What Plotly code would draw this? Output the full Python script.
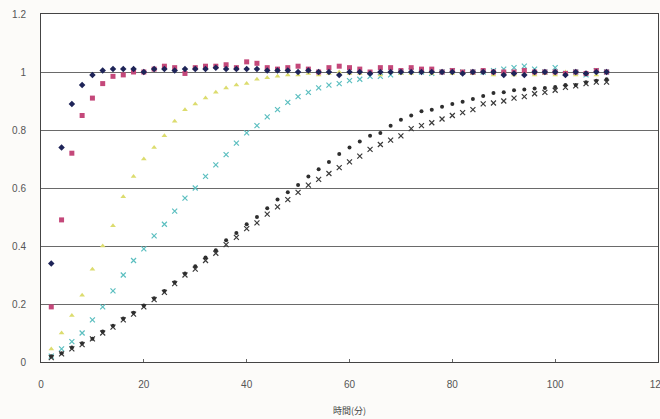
import plotly.graph_objects as go

time_min = list(range(2, 111, 2))

s1 = [0.34, 0.74, 0.89, 0.955, 0.99,
      1.005, 1.01, 1.01, 1.01, 1.0,
      1.01, 1.01, 1.005, 1.01, 1.01,
      1.01, 1.015, 1.01, 1.01, 1.01,
      1.01, 1.005, 1.005, 1.005, 1.0,
      1.005, 1.0, 1.0, 0.99, 1.0,
      1.0, 0.995, 1.0, 1.0, 1.0,
      1.0, 1.0, 1.0, 1.0, 1.0,
      0.995, 1.0, 1.0, 1.0, 0.99,
      0.995, 0.99, 1.0, 1.0, 1.0,
      0.99, 1.0, 0.995, 1.0, 1.0]

s2 = [0.19, 0.49, 0.72, 0.85, 0.91,
      0.96, 0.985, 0.99, 1.0, 1.0,
      1.01, 1.02, 1.015, 0.995, 1.015,
      1.02, 1.02, 1.025, 1.015, 1.035,
      1.03, 1.015, 1.01, 1.015, 1.02,
      1.01, 1.0, 1.015, 1.02, 1.015,
      1.01, 1.0, 1.015, 1.015, 1.005,
      1.015, 1.01, 1.01, 1.0, 1.005,
      1.0, 1.0, 1.005, 1.0, 1.0,
      1.0, 1.005, 1.0, 1.0, 1.0,
      0.995, 1.0, 0.995, 1.005, 1.0]

s3 = [0.045, 0.10, 0.16, 0.23, 0.32,
      0.40, 0.47, 0.57, 0.64, 0.70,
      0.74, 0.78, 0.83, 0.87, 0.89,
      0.91, 0.93, 0.945, 0.955, 0.96,
      0.975, 0.98, 0.985, 0.99, 0.99,
      0.995, 0.99, 0.995, 1.0, 0.995,
      0.995, 1.0, 0.99, 1.0, 0.995,
      0.995, 1.0, 0.995, 1.0, 0.995,
      1.0, 0.995, 1.0, 0.99, 0.995,
      0.99, 1.0, 0.99, 0.995, 0.99,
      1.0, 0.99, 0.995, 0.99, 1.0]

s4 = [0.02, 0.045, 0.07, 0.10, 0.145,
      0.19, 0.245, 0.30, 0.35, 0.39,
      0.435, 0.475, 0.52, 0.565, 0.60,
      0.64, 0.68, 0.715, 0.755, 0.79,
      0.815, 0.845, 0.87, 0.895, 0.915,
      0.93, 0.945, 0.955, 0.96, 0.97,
      0.975, 0.985, 0.985, 0.99, 1.0,
      1.005, 1.0, 0.995, 1.0, 1.005,
      1.0, 1.0, 1.0, 1.005, 1.01,
      1.015, 1.02, 1.01, 1.0, 1.015,
      0.995, 1.0, 0.99, 1.005, 1.0]

s5 = [0.02, 0.03, 0.05, 0.065, 0.08,
      0.105, 0.125, 0.15, 0.17, 0.195,
      0.22, 0.245, 0.275, 0.305, 0.33,
      0.36, 0.385, 0.42, 0.445, 0.475,
      0.50, 0.53, 0.56, 0.585, 0.61,
      0.64, 0.665, 0.69, 0.717, 0.74,
      0.76, 0.78, 0.79, 0.815, 0.835,
      0.85, 0.865, 0.87, 0.88, 0.89,
      0.897, 0.907, 0.917, 0.928, 0.93,
      0.937, 0.94, 0.943, 0.945, 0.948,
      0.955, 0.955, 0.965, 0.97, 0.975]

s6 = [0.015, 0.028, 0.045, 0.06, 0.08,
      0.10, 0.12, 0.145, 0.165, 0.19,
      0.215, 0.24, 0.27, 0.30, 0.32,
      0.35, 0.375, 0.405, 0.43, 0.46,
      0.48, 0.51, 0.535, 0.56, 0.585,
      0.61, 0.63, 0.65, 0.67, 0.69,
      0.71, 0.733, 0.75, 0.765, 0.78,
      0.805, 0.815, 0.825, 0.838, 0.85,
      0.86, 0.87, 0.89, 0.893, 0.90,
      0.91, 0.915, 0.925, 0.93, 0.937,
      0.947, 0.952, 0.96, 0.965, 0.965]

x_ticks = [0, 20, 40, 60, 80, 100, 120]
y_ticks = [0, 0.2, 0.4, 0.6, 0.8, 1.0, 1.2]
y_tick_labels = ["0", "0.2", "0.4", "0.6", "0.8", "1", "1.2"]

series = [
    (s4, "#5cbfc0", "x-thin", 5, 1.2),
    (s3, "#dcdc6e", "triangle-up", 5, 0),
    (s6, "#3a3a3a", "x-thin", 5, 1.2),
    (s5, "#2e2e2e", "circle", 4, 0),
    (s2, "#c4487a", "square", 5, 0),
    (s1, "#1e2458", "diamond", 5, 0),
]

fig = go.Figure()
for vals, col, sym, size, lw in series:
    marker = dict(symbol=sym, size=size, color=col)
    if lw:
        marker["line"] = dict(color=col, width=lw)
    fig.add_trace(go.Scatter(x=time_min, y=vals, mode="markers",
                             marker=marker, showlegend=False, cliponaxis=False))

fig.update_layout(
    width=660, height=419, autosize=False,
    margin=dict(l=41, r=2, t=14, b=57),
    paper_bgcolor="#fcfbf9",
    plot_bgcolor="#ffffff",
    font=dict(family="Liberation Sans, Arial, sans-serif", size=10, color="#555"),
)
fig.update_xaxes(
    range=[0, 120], tickvals=x_ticks, showgrid=False, automargin=False,
    showline=True, linecolor="#444", linewidth=1, mirror=True,
    ticks="inside", ticklen=3, tickcolor="#666",
    ticklabelstandoff=13, ticklabeloverflow="allow", zeroline=False,
    title=dict(text="時間(分)", font=dict(family="Noto Sans CJK JP", size=9, color="#444"),
               standoff=18),
)
fig.update_yaxes(
    range=[0, 1.2], tickvals=y_ticks, ticktext=y_tick_labels, automargin=False,
    showgrid=True, gridcolor="#6a6a6a", gridwidth=1,
    showline=True, linecolor="#444", linewidth=1, mirror=True,
    ticks="", ticklabelstandoff=12, zeroline=False,
)

fig.write_html(
    "out.html",
    config={"responsive": False, "displayModeBar": False},
    post_script="document.body.style.margin='0';document.body.style.overflow='hidden';",
)
